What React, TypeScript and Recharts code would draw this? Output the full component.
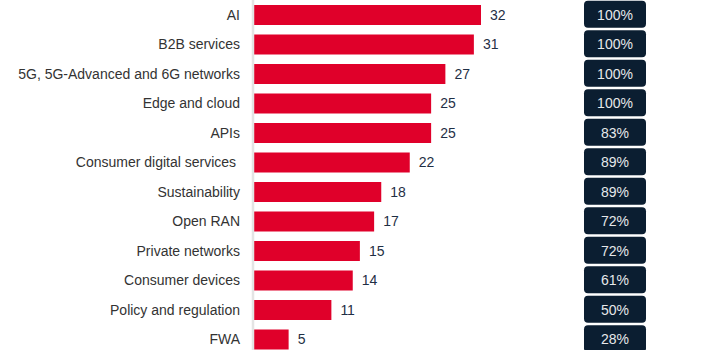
import React from "react";
import { BarChart, Bar, XAxis, YAxis, LabelList } from "recharts";

const categories = [
  "AI",
  "B2B services",
  "5G, 5G-Advanced and 6G networks",
  "Edge and cloud",
  "APIs",
  "Consumer digital services ",
  "Sustainability",
  "Open RAN",
  "Private networks",
  "Consumer devices",
  "Policy and regulation",
  "FWA",
];
const counts = [32, 31, 27, 25, 25, 22, 18, 17, 15, 14, 11, 5];
const shares = [100, 100, 100, 100, 83, 89, 89, 72, 72, 61, 50, 28];

const chartData = categories.map((category, i) => ({
  category,
  count: counts[i],
  share: shares[i],
}));

const FONT = '"Liberation Sans", Arial, sans-serif';

const ShareTick = (props: any) => {
  const { x, y, payload } = props;
  const share = shares[payload.index];
  return (
    <g>
      <rect x={x} y={y - 14} width={62} height={27} rx={4} ry={4} fill="#0b1e31" />
      <text
        x={x + 31}
        y={y}
        dy={5}
        textAnchor="middle"
        fill="#e6e8ea"
        fontSize={14}
        fontFamily={FONT}
      >
        {share}%
      </text>
    </g>
  );
};

const CategoryTick = (props: any) => {
  const { x, y, payload } = props;
  return (
    <text
      x={x}
      y={y}
      dy={5}
      textAnchor="end"
      fill="#333333"
      fontSize={14}
      fontFamily={FONT}
      style={{ whiteSpace: "pre" }}
    >
      {payload.value}
    </text>
  );
};

const App = () => {
  return (
    <div style={{ position: "absolute", left: 0, top: 0, background: "#fff" }}>
      <BarChart
        data={chartData}
        layout="vertical"
        width={725}
        height={354}
        margin={{ top: 0, right: 0, left: 0, bottom: 0 }}
      >
        <XAxis type="number" domain={[0, 40]} hide />
        <YAxis
          yAxisId="left"
          type="category"
          dataKey="category"
          width={253}
          tickSize={0}
          tickMargin={13}
          tickLine={false}
          axisLine={{ stroke: "#e4e4e4", strokeWidth: 2.5 }}
          tick={<CategoryTick />}
          interval={0}
        />
        <YAxis
          yAxisId="right"
          orientation="right"
          type="category"
          dataKey="category"
          width={187}
          tickSize={0}
          tickMargin={46}
          tickLine={false}
          axisLine={false}
          tick={<ShareTick />}
          interval={0}
        />
        <Bar
          yAxisId="left"
          dataKey="count"
          fill="#e0002a"
          barSize={20}
          isAnimationActive={false}
        >
          <LabelList
            dataKey="count"
            position="right"
            offset={9}
            fill="#1f2f45"
            fontSize={14}
            fontFamily={FONT}
          />
        </Bar>
      </BarChart>
    </div>
  );
};

export default App;
